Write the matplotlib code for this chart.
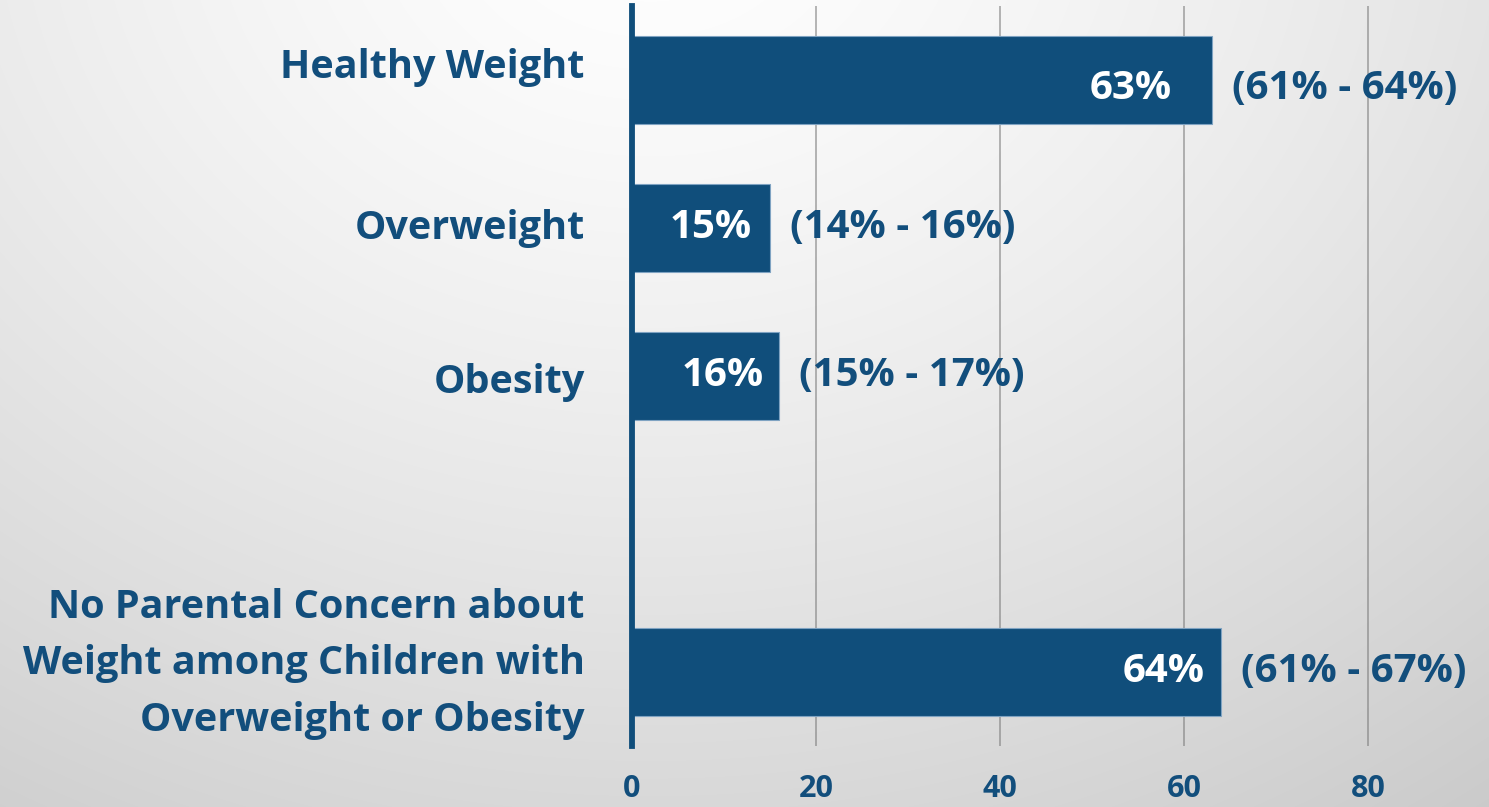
import numpy as np
import matplotlib
matplotlib.use("Agg")
import matplotlib.pyplot as plt

# ---- data ----
categories = ["Healthy Weight", "Overweight", "Obesity",
              "No Parental Concern about\nWeight among Children with\nOverweight or Obesity"]
positions = [0, 1, 2, 4]
values = [63, 15, 16, 64]
value_labels = ["63%", "15%", "16%", "64%"]
ci_labels = ["(61% - 64%)", "(14% - 16%)", "(15% - 17%)", "(61% - 67%)"]
xticks = [0, 20, 40, 60, 80]

# ---- style ----
BLUE = "#104e7b"
TXT = "#124e7c"
FONT = "Open Sans"
inner_pad_pt = [28.8, 13.0, 11.5, 11.5]
cat_dy_pt = [9, 0, -5, 6]        # vertical nudges of category labels
val_dy_pt = [-6, 0, 0, 0]        # vertical nudges of value/CI labels

W, H = 1489, 807
fig = plt.figure(figsize=(W / 100, H / 100), dpi=100)

# background gradient
bg = fig.add_axes([0, 0, 1, 1], zorder=-10)
yy, xx = np.mgrid[0:H, 0:W]
d = np.sqrt(((xx - 650) / 1100.0) ** 2 + ((yy + 100) / 900.0) ** 2)
g = 1 - 0.15 * d ** 1.35
img = np.dstack([g, g, g])
bg.imshow(np.clip(img, 0, 1), aspect="auto", extent=[0, 1, 0, 1], origin="upper")
bg.axis("off")

left = 632 / W
right = 1488 / W
bottom = (H - 746) / H
top = (H - 6) / H
ax = fig.add_axes([left, bottom, right - left, top - bottom])
ax.patch.set_alpha(0)

ax.barh(positions, values, height=0.6, color=BLUE, edgecolor="#7fa3c2",
        linewidth=0.8, zorder=3)

ax.set_xlim(0, 93)
ax.set_ylim(4.5, -0.5)

for x in xticks[1:]:
    ax.axvline(x, color="#7a7a7a", alpha=0.55, linewidth=1.4, zorder=1)

for s in ["top", "right", "bottom"]:
    ax.spines[s].set_visible(False)
ax.spines["left"].set_color(BLUE)
ax.spines["left"].set_linewidth(4.2)
ax.spines["left"].set_zorder(4)

ax.set_xticks(xticks)
ax.set_xticklabels([str(t) for t in xticks])
ax.tick_params(axis="x", length=0, pad=20, labelsize=22, labelcolor=TXT)
for lbl in ax.get_xticklabels():
    lbl.set_fontfamily(FONT)
    lbl.set_fontweight("bold")

ax.set_yticks(positions)
ax.set_yticklabels([])
ax.tick_params(axis="y", length=0)

for p, c, dy in zip(positions, categories, cat_dy_pt):
    ax.annotate(c, xy=(0, p), xycoords=("axes fraction", "data"),
                xytext=(-34, dy), textcoords="offset points",
                ha="right", va="center", multialignment="right",
                color=TXT, fontsize=28.5, fontweight="bold", family=FONT,
                linespacing=1.58)

for p, v, vl, cl, pad, dy in zip(positions, values, value_labels, ci_labels,
                                 inner_pad_pt, val_dy_pt):
    ax.annotate(vl, xy=(v, p), xytext=(-pad, dy), textcoords="offset points",
                ha="right", va="center", color="white", fontsize=29,
                fontweight="bold", family=FONT, zorder=5)
    ax.annotate(cl, xy=(v, p), xytext=(14.4, dy), textcoords="offset points",
                ha="left", va="center", color=TXT, fontsize=29,
                fontweight="bold", family=FONT, zorder=5)

fig.savefig("out.png", dpi=100)
